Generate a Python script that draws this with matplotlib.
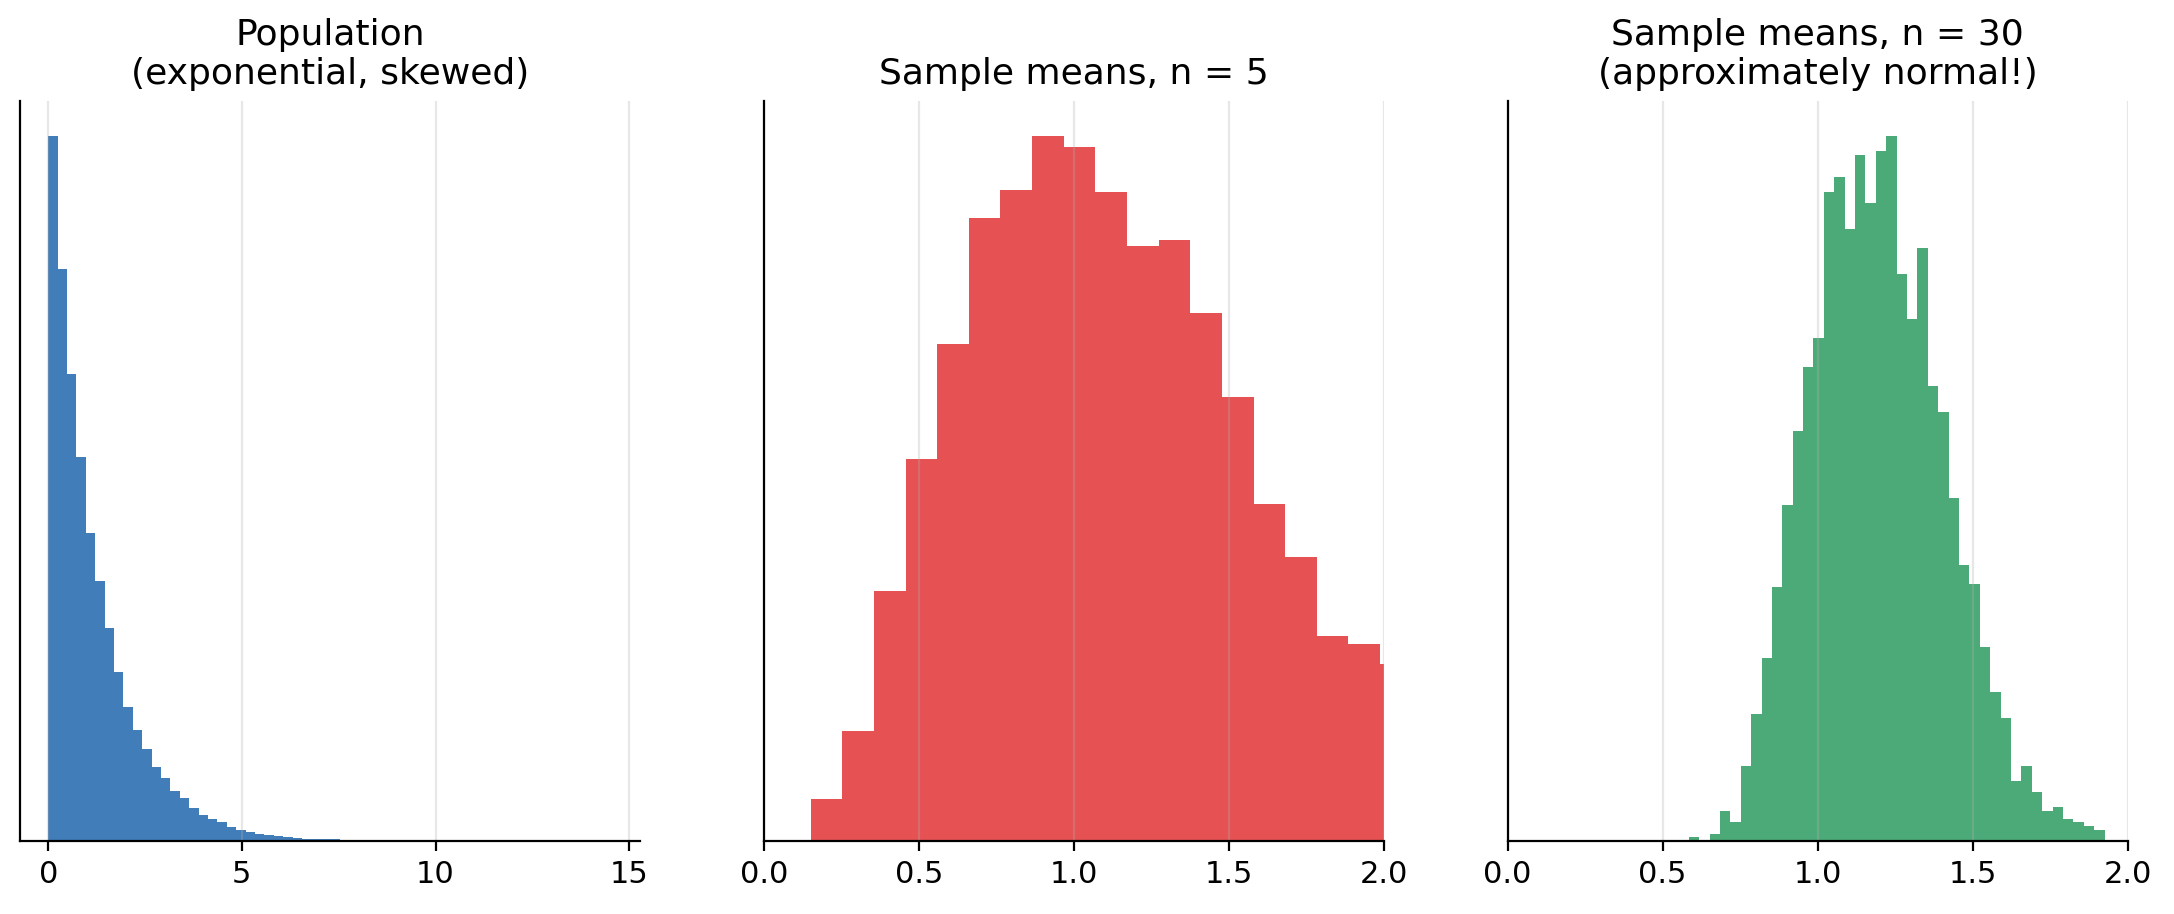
import numpy as np
import matplotlib.pyplot as plt

# population histogram (exponential), 60 bins over the data range
pop_range = (0.0, 14.56)
pop_counts = [18490, 15007, 12256, 10073, 8074, 6812, 5576, 4445, 3524, 2919,
              2420, 1946, 1657, 1315, 1131, 868, 684, 579, 500, 368,
              289, 237, 170, 150, 120, 100, 80, 64, 55, 47,
              42, 37, 32, 27, 15, 12, 10, 8, 6, 5,
              4, 3, 3, 2, 2, 1, 1, 1, 1, 0,
              1, 0, 0, 0, 0, 0, 0, 0, 0, 1]

# sample means n=5 (only bins up to the 2.0 limit)
n5_range = (0.151, 2.089)
n5_counts = [15, 39, 89, 136, 177, 222, 232, 251, 247, 231,
             212, 214, 188, 158, 120, 101, 73, 70, 63]

# sample means n=30, 40 bins
n30_range = (0.584, 1.925)
n30_counts = [1, 0, 2, 8, 5, 20, 34, 49, 68, 90,
              110, 127, 135, 174, 178, 164, 184, 171, 185, 189,
              152, 140, 159, 122, 115, 92, 74, 69, 52, 40,
              33, 16, 20, 13, 8, 9, 6, 5, 4, 3]

titles = ["Population\n(exponential, skewed)",
          "Sample means, n = 5",
          "Sample means, n = 30\n(approximately normal!)"]
colors = ["#417db9", "#e65153", "#4caa78"]

fig, axes = plt.subplots(1, 3, figsize=(10.87, 4.57), dpi=200)
fig.subplots_adjust(left=0.0092, right=0.9788, bottom=0.0799, top=0.8895, wspace=0.199)

panels = [(pop_range, pop_counts), (n5_range, n5_counts), (n30_range, n30_counts)]
for i, (ax, (rng, counts)) in enumerate(zip(axes, panels)):
    edges = np.linspace(rng[0], rng[1], len(counts) + 1)
    ax.hist(edges[:-1], bins=edges, weights=counts, color=colors[i])
    ax.set_title(titles[i], fontsize=13)
    ax.set_yticks([])
    ax.tick_params(axis='x', labelsize=11)
    ax.spines['top'].set_visible(False)
    ax.spines['right'].set_visible(False)
    ax.grid(axis='x', alpha=0.3)
    if i > 0:
        ax.set_xlim(0, 2)
        ax.set_xticks([0.0, 0.5, 1.0, 1.5, 2.0])

fig.savefig("out.png", dpi=200)
